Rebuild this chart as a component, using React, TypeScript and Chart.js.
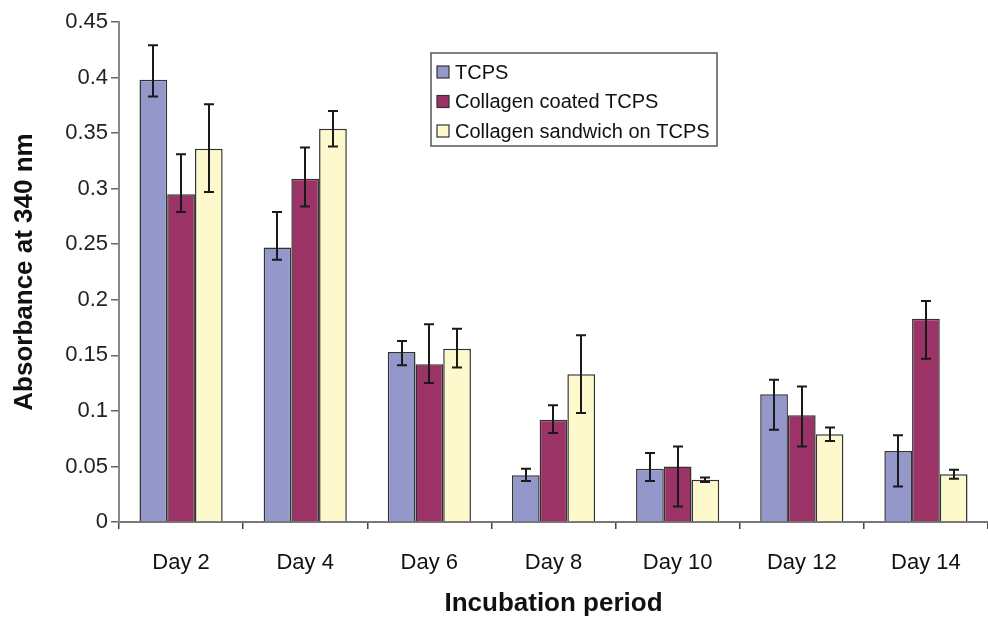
import React, { useEffect, useRef } from "react";
import { Chart, registerables } from "chart.js";

Chart.register(...registerables);

const days = ["Day 2", "Day 4", "Day 6", "Day 8", "Day 10", "Day 12", "Day 14"];

const seriesNames = ["TCPS", "Collagen coated TCPS", "Collagen sandwich on TCPS"];

const tcps = [0.398, 0.247, 0.153, 0.042, 0.048, 0.115, 0.064];
const tcpsErrUp = [0.031, 0.032, 0.010, 0.006, 0.014, 0.013, 0.014];
const tcpsErrDown = [0.015, 0.011, 0.012, 0.005, 0.011, 0.032, 0.032];

const coated = [0.295, 0.309, 0.142, 0.092, 0.05, 0.096, 0.183];
const coatedErrUp = [0.036, 0.028, 0.036, 0.013, 0.018, 0.026, 0.016];
const coatedErrDown = [0.016, 0.025, 0.017, 0.012, 0.036, 0.028, 0.036];

const sandwich = [0.336, 0.354, 0.156, 0.133, 0.038, 0.079, 0.043];
const sandwichErrUp = [0.04, 0.016, 0.018, 0.035, 0.002, 0.006, 0.004];
const sandwichErrDown = [0.039, 0.016, 0.017, 0.035, 0.002, 0.006, 0.004];

const yTicks = [0, 0.05, 0.1, 0.15, 0.2, 0.25, 0.3, 0.35, 0.4, 0.45];

const fillColors = ["#9497c9", "#9b3366", "#fdf9cc"];

const FONT = "'Liberation Sans', Arial, Helvetica, sans-serif";

// Error bars (asymmetric) drawn on top of each bar
const errorBarPlugin = {
  id: "errorBars",
  afterDatasetsDraw(chart: any) {
    const { ctx } = chart;
    const yScale = chart.scales.y;
    ctx.save();
    ctx.strokeStyle = "#1a1a1a";
    ctx.lineWidth = 2;
    chart.data.datasets.forEach((ds: any, i: number) => {
      const meta = chart.getDatasetMeta(i);
      meta.data.forEach((bar: any, j: number) => {
        const v = ds.data[j];
        const yHi = yScale.getPixelForValue(v + ds.errUp[j]);
        const yLo = yScale.getPixelForValue(v - ds.errDown[j]);
        const x = Math.round(bar.x);
        const cap = 5;
        ctx.beginPath();
        ctx.moveTo(x, yHi);
        ctx.lineTo(x, yLo);
        ctx.moveTo(x - cap, yHi);
        ctx.lineTo(x + cap, yHi);
        ctx.moveTo(x - cap, yLo);
        ctx.lineTo(x + cap, yLo);
        ctx.stroke();
      });
    });
    ctx.restore();
  },
};

// Boxed legend sitting inside the plot area
const boxedLegendPlugin = {
  id: "boxedLegend",
  afterDraw(chart: any) {
    const { ctx } = chart;
    const left = 431;
    const top = 53;
    const width = 286;
    const height = 93;
    ctx.save();
    ctx.fillStyle = "#ffffff";
    ctx.fillRect(left, top, width, height);
    ctx.strokeStyle = "#555";
    ctx.lineWidth = 1.5;
    ctx.strokeRect(left, top, width, height);
    ctx.font = `20px ${FONT}`;
    ctx.textBaseline = "middle";
    ctx.textAlign = "left";
    chart.data.datasets.forEach((ds: any, i: number) => {
      const cy = top + 19 + i * 29.5;
      ctx.fillStyle = ds.backgroundColor;
      ctx.fillRect(left + 6, cy - 6, 12, 12);
      ctx.strokeStyle = "#333";
      ctx.lineWidth = 1.2;
      ctx.strokeRect(left + 6, cy - 6, 12, 12);
      ctx.fillStyle = "#111";
      ctx.fillText(ds.label, left + 24, cy + 1);
    });
    ctx.restore();
  },
};

export default function App() {
  const canvasRef = useRef<HTMLCanvasElement | null>(null);

  useEffect(() => {
    if (!canvasRef.current) return;
    const makeSet = (i: number, data: number[], up: number[], down: number[]) => ({
      label: seriesNames[i],
      data,
      errUp: up,
      errDown: down,
      backgroundColor: fillColors[i],
      borderColor: "#333",
      borderWidth: 1.5,
      categoryPercentage: 0.67,
      barPercentage: 1.0,
    });

    const chart = new Chart(canvasRef.current, {
      type: "bar",
      data: {
        labels: days,
        datasets: [
          makeSet(0, tcps, tcpsErrUp, tcpsErrDown),
          makeSet(1, coated, coatedErrUp, coatedErrDown),
          makeSet(2, sandwich, sandwichErrUp, sandwichErrDown),
        ] as any,
      },
      options: {
        animation: false,
        responsive: true,
        maintainAspectRatio: false,
        layout: { padding: { top: 22, right: 0, left: 0, bottom: 0 } },
        plugins: {
          legend: { display: false },
          tooltip: { enabled: false },
        },
        scales: {
          x: {
            grid: {
              display: true,
              drawOnChartArea: false,
              drawTicks: true,
              tickLength: 7,
              color: "#444",
              lineWidth: 1.5,
            },
            border: { display: true, color: "#777", width: 2 },
            ticks: {
              color: "#111",
              font: { family: FONT, size: 22 },
              padding: 21,
              maxRotation: 0,
            },
            title: {
              display: true,
              text: "Incubation period",
              color: "#111",
              font: { family: FONT, size: 26, weight: "bold" },
              padding: { top: 0, bottom: 0 },
            },
            afterFit(scale: any) {
              scale.height = 97;
            },
          },
          y: {
            min: 0,
            max: 0.45,
            afterBuildTicks(scale: any) {
              scale.ticks = yTicks.map((v) => ({ value: v }));
            },
            grid: {
              display: true,
              drawOnChartArea: false,
              drawTicks: true,
              tickLength: 8,
              color: "#666",
              lineWidth: 1.5,
            },
            border: { display: true, color: "#888", width: 2 },
            ticks: {
              color: "#222",
              font: { family: FONT, size: 22 },
              padding: 3,
              callback: (v: any) => String(Number(Number(v).toFixed(2))),
            },
            title: {
              display: true,
              text: "Absorbance at 340 nm",
              color: "#111",
              font: { family: FONT, size: 26, weight: "bold" },
              padding: { top: 9, bottom: 0 },
            },
            afterFit(scale: any) {
              scale.width = 119;
            },
          },
        },
      },
      plugins: [errorBarPlugin, boxedLegendPlugin],
    });
    return () => chart.destroy();
  }, []);

  return (
    <div style={{ position: "fixed", left: 0, top: 0, width: 988, height: 619, background: "#fff" }}>
      <canvas ref={canvasRef} />
    </div>
  );
}
